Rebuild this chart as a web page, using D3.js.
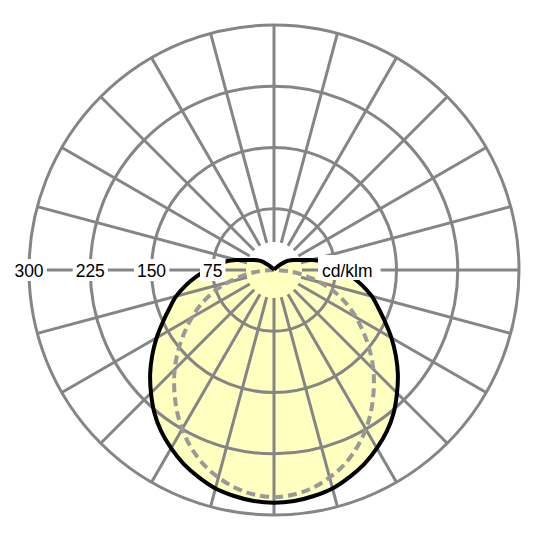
<!DOCTYPE html>
<html>
<head>
<meta charset="utf-8">
<script src="https://cdn.jsdelivr.net/npm/d3@7"></script>
<style>
  body { margin: 0; background: #fff; }
  svg { display: block; }
  text { font-family: "Liberation Sans", Arial, sans-serif; font-size: 17.5px; fill: #000; }
</style>
</head>
<body>
<div id="chart"></div>
<script>
// polar intensity diagram, values in cd/klm, gamma in degrees from nadir
var gammas = [0, 5, 10, 15, 20, 25, 30, 35, 40, 45, 50, 55, 60, 65, 70, 75, 80, 85, 90,
              95, 100, 105, 110, 115, 120, 125, 130, 135, 140, 145, 150, 155, 160, 165, 170, 175, 180];
// C0 - C180 plane (solid)
var c0 = [285, 284, 281, 277, 270, 262, 252, 241, 228, 213, 198, 182, 166, 150, 136, 124, 110, 96, 82,
          70, 60, 47, 36, 29, 24, 19, 11, 6, 3, 1, 0, 0, 0, 0, 0, 0, 0];
// C90 - C270 plane (dashed)
var c90 = [278, 276, 271, 263, 253, 240, 225, 208, 190, 172, 153, 134, 116, 98, 79, 58, 38, 19, 1,
           0, 0, 0, 0, 0, 0, 0, 0, 0, 0, 0, 0, 0, 0, 0, 0, 0, 0];
var ringValues = [75, 150, 225, 300];
var ringLabels = ['300', '225', '150', '75'];
var unitLabel = 'cd/klm';

var w = 540, h = 540,
    cx = 274, cy = 270,
    R = 245;

var r = d3.scaleLinear().domain([0, 300]).range([0, R]);
var rad = Math.PI / 180;

var svg = d3.select('#chart').append('svg')
    .attr('width', w)
    .attr('height', h);

var g = svg.append('g')
    .attr('transform', 'translate(' + cx + ',' + cy + ')');

// both halves of a plane: left side (gamma 180 -> 0) then right side (0 -> 180)
var planePoints = function (vals) {
  var pts = [];
  for (var i = gammas.length - 1; i >= 0; i--) {
    pts.push([Math.PI + gammas[i] * rad, vals[i]]);
  }
  for (var j = 1; j < gammas.length; j++) {
    pts.push([Math.PI - gammas[j] * rad, vals[j]]);
  }
  return pts;
};

var line = d3.lineRadial()
    .angle(function (d) { return d[0]; })
    .radius(function (d) { return r(d[1]); })
    .curve(d3.curveCatmullRom);

var solid = planePoints(c0),
    dashed = planePoints(c90);

// fill under the C0 curve
g.append('path')
    .attr('d', line(solid) + 'Z')
    .attr('fill', '#ffffc0')
    .attr('stroke', 'none');

// grid: rings
g.selectAll('circle.ring')
    .data(ringValues)
    .enter().append('circle')
    .attr('class', 'ring')
    .attr('r', function (d) { return r(d); })
    .attr('fill', 'none')
    .attr('stroke', '#858585')
    .attr('stroke-width', 3);

// grid: spokes every 15 degrees
var spokes = d3.range(0, 360, 15);
g.selectAll('line.spoke')
    .data(spokes)
    .enter().append('line')
    .attr('class', 'spoke')
    .attr('x1', function (d) { return 28 * Math.cos(d * rad); })
    .attr('y1', function (d) { return 28 * Math.sin(d * rad); })
    .attr('x2', function (d) { return R * Math.cos(d * rad); })
    .attr('y2', function (d) { return R * Math.sin(d * rad); })
    .attr('stroke', '#858585')
    .attr('stroke-width', 3);

// curves
g.append('path')
    .attr('d', line(dashed))
    .attr('fill', 'none')
    .attr('stroke', '#999')
    .attr('stroke-width', 4)
    .attr('stroke-dasharray', '9,5');

g.append('path')
    .attr('d', line(solid))
    .attr('fill', 'none')
    .attr('stroke', '#000')
    .attr('stroke-width', 4)
    .attr('stroke-linejoin', 'round');

// scale labels on the left horizontal, with white boxes
var labels = g.selectAll('g.lab')
    .data(ringLabels)
    .enter().append('g')
    .attr('class', 'lab')
    .attr('transform', function (d) { return 'translate(' + (-r(+d)) + ',0)'; });

labels.each(function (d) {
  var lg = d3.select(this);
  var t = lg.append('text')
      .attr('text-anchor', 'middle')
      .attr('y', 6.5)
      .text(d);
  var bb = t.node().getBBox();
  lg.insert('rect', 'text')
      .attr('x', bb.x - 3)
      .attr('y', -11)
      .attr('width', bb.width + 6)
      .attr('height', 22)
      .attr('fill', '#fff');
});

var ug = g.append('g').attr('transform', 'translate(48,0)');
var ut = ug.append('text')
    .attr('text-anchor', 'start')
    .attr('y', 6.5)
    .text(unitLabel);
var ub = ut.node().getBBox();
ug.insert('rect', 'text')
    .attr('x', ub.x - 4)
    .attr('y', -15)
    .attr('width', ub.width + 12)
    .attr('height', 25)
    .attr('fill', '#fff');
</script>
</body>
</html>
